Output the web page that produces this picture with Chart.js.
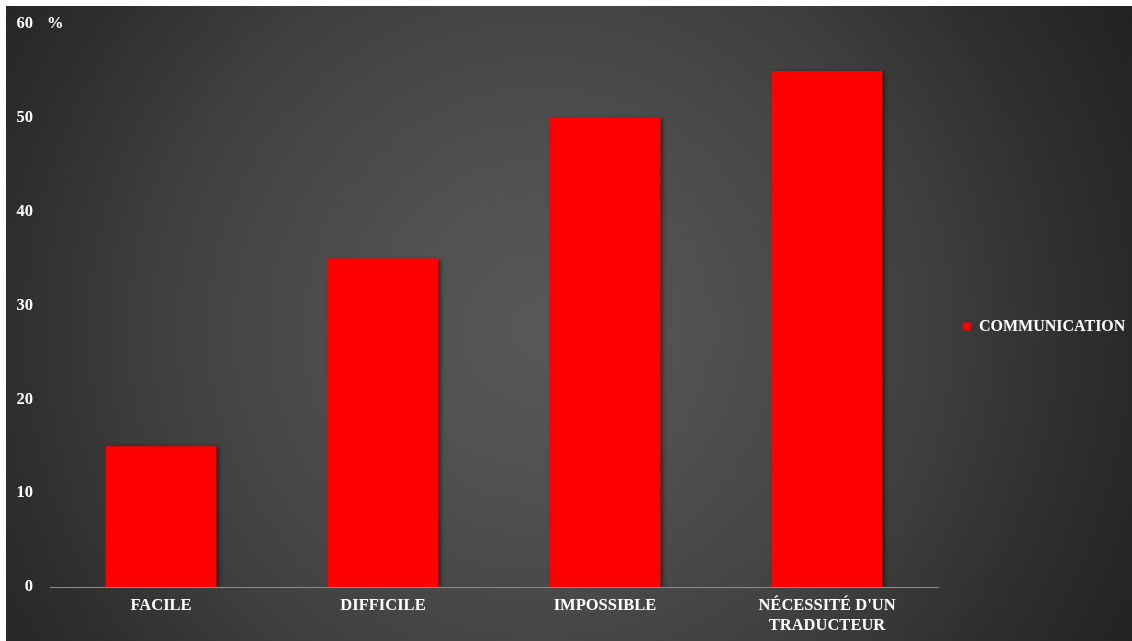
<!DOCTYPE html>
<html>
<head>
<meta charset="utf-8">
<script src="https://cdn.jsdelivr.net/npm/chart.js@4"></script>
<style>
  html, body { margin: 0; padding: 0; background: #fff; }
  #wrap {
    position: absolute; left: 6px; top: 6px; width: 1126px; height: 635px;
    background: radial-gradient(circle farthest-corner at 47.5% 51%, #585858 0%, #505050 25%, #414141 55%, #2e2e2e 80%, #222 100%);
  }
</style>
</head>
<body>
<div id="wrap"><canvas id="myChart"></canvas></div>
<script>
const categories = ['FACILE', 'DIFFICILE', 'IMPOSSIBLE', ["NÉCESSITÉ D'UN", 'TRADUCTEUR']];
const communication = [15, 35, 50, 55];
const seriesName = 'COMMUNICATION';
const yUnit = '%';

const fontFamily = '"Liberation Serif", "Times New Roman", serif';
const fontSize = 16.5;

// little "%" next to the top tick
const unitLabel = {
  id: 'unitLabel',
  afterDraw(chart) {
    const c = chart.ctx;
    const y = chart.scales.y;
    c.save();
    c.font = 'bold ' + fontSize + 'px ' + fontFamily;
    c.fillStyle = '#fff';
    c.textBaseline = 'middle';
    c.textAlign = 'left';
    c.fillText(yUnit, 41, y.getPixelForValue(y.max));
    c.restore();
  }
};

// soft shadow under bars like the office chart
const barShadow = {
  id: 'barShadow',
  beforeDatasetsDraw(chart) {
    const c = chart.ctx;
    c.save();
    c.shadowColor = 'rgba(0,0,0,0.45)';
    c.shadowBlur = 4;
    c.shadowOffsetX = 2;
    c.shadowOffsetY = 1;
  },
  afterDatasetsDraw(chart) {
    chart.ctx.restore();
  }
};

// right legend: fixed width so the plot ends where it should, nudged up a bit
const legendTweak = {
  id: 'legendTweak',
  beforeUpdate(chart) {
    const lg = chart.legend;
    if (lg && !lg._fixed) {
      const fit = lg.fit;
      lg.fit = function () {
        fit.call(this);
        this.width = 194;
      };
      const draw = lg.draw;
      lg.draw = function () {
        this.ctx.save();
        this.ctx.translate(0, -6);
        draw.call(this);
        this.ctx.restore();
      };
      lg._fixed = true;
    }
  }
};

const ctx = document.getElementById('myChart').getContext('2d');
const myChart = new Chart(ctx, {
  type: 'bar',
  data: {
    labels: categories,
    datasets: [{
      label: seriesName,
      data: communication,
      backgroundColor: '#ff0000',
      borderWidth: 0,
      categoryPercentage: 1,
      barPercentage: 0.5
    }]
  },
  options: {
    responsive: true,
    maintainAspectRatio: false,
    animation: false,
    layout: { padding: { top: 18, right: 0, bottom: 0, left: 0 } },
    plugins: {
      tooltip: { enabled: false },
      legend: {
        position: 'right',
        labels: {
          color: '#fff',
          boxWidth: 8,
          boxHeight: 8,
          padding: 25,
          font: { family: fontFamily, size: 16, weight: 'bold' }
        }
      }
    },
    scales: {
      x: {
        afterFit(scale) { scale.height = 54; },
        grid: { display: false, drawTicks: false },
        border: { display: true, color: '#8c8c8c', width: 1 },
        ticks: {
          color: '#fff',
          padding: 9,
          maxRotation: 0,
          autoSkip: false,
          font: { family: fontFamily, size: fontSize, weight: 'bold', lineHeight: 1.22 }
        }
      },
      y: {
        min: 0,
        max: 60,
        afterFit(scale) {
          scale.width = 44;
          scale.paddingTop = 0;
          scale.paddingBottom = 0;
        },
        grid: { display: false, drawTicks: false },
        border: { display: false },
        ticks: {
          stepSize: 10,
          color: '#fff',
          padding: 17,
          font: { family: fontFamily, size: fontSize, weight: 'bold' }
        }
      }
    }
  },
  plugins: [legendTweak, barShadow, unitLabel]
});
myChart.update();
</script>
</body>
</html>
